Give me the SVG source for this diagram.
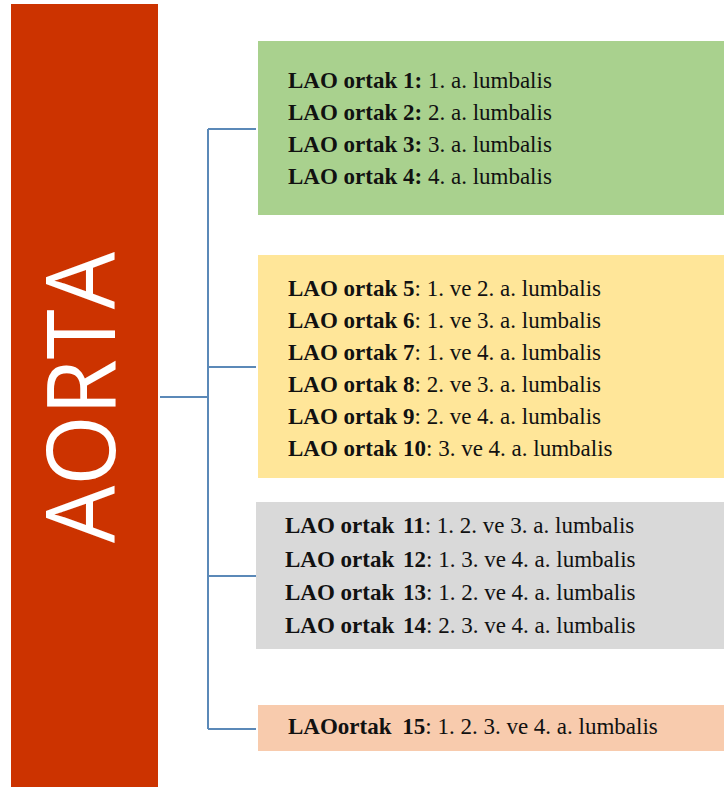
<svg xmlns="http://www.w3.org/2000/svg" width="724" height="787" viewBox="0 0 724 787">
<style>
.t{font-family:"Liberation Serif","Times New Roman",serif;font-size:23px;fill:#111}
.b{font-weight:bold}
.c{fill:none;stroke:#5B89B8;stroke-width:2}
</style>
<rect width="724" height="787" fill="#fff"/>
<g id="aorta">
<rect x="11" y="4" width="147" height="783" fill="#CC3300"/>
<text transform="translate(115,397.5) rotate(-90)" text-anchor="middle" font-family="'Open Sans','Liberation Sans',sans-serif" font-size="96" fill="#fff" textLength="291" lengthAdjust="spacingAndGlyphs">AORTA</text>
</g>
<g id="connectors">
<path class="c" d="M160 397H208M208 129V729M208 129H256M208 367H256M208 576H256M208 729H256"/>
</g>
<g id="green">
<rect x="258" y="41" width="466" height="174" fill="#A9D18E"/>
<text class="t" x="288" y="88"><tspan class="b">LAO ortak 1:</tspan> 1. a. lumbalis</text>
<text class="t" x="288" y="120"><tspan class="b">LAO ortak 2:</tspan> 2. a. lumbalis</text>
<text class="t" x="288" y="152"><tspan class="b">LAO ortak 3:</tspan> 3. a. lumbalis</text>
<text class="t" x="288" y="184"><tspan class="b">LAO ortak 4:</tspan> 4. a. lumbalis</text>
</g>
<g id="yellow">
<rect x="258" y="255" width="466" height="223" fill="#FFE699"/>
<text class="t" x="288" y="296"><tspan class="b">LAO ortak 5</tspan>: 1. ve 2. a. lumbalis</text>
<text class="t" x="288" y="328"><tspan class="b">LAO ortak 6</tspan>: 1. ve 3. a. lumbalis</text>
<text class="t" x="288" y="360"><tspan class="b">LAO ortak 7</tspan>: 1. ve 4. a. lumbalis</text>
<text class="t" x="288" y="392"><tspan class="b">LAO ortak 8</tspan>: 2. ve 3. a. lumbalis</text>
<text class="t" x="288" y="424"><tspan class="b">LAO ortak 9</tspan>: 2. ve 4. a. lumbalis</text>
<text class="t" x="288" y="456"><tspan class="b">LAO ortak 10</tspan>: 3. ve 4. a. lumbalis</text>
</g>
<g id="gray">
<rect x="256" y="502" width="468" height="147" fill="#D9D9D9"/>
<text class="t" x="285" y="533"><tspan class="b">LAO ortak <tspan dx="3">11</tspan></tspan>: 1. 2. ve 3. a. lumbalis</text>
<text class="t" x="285" y="566.5"><tspan class="b">LAO ortak <tspan dx="3">12</tspan></tspan>: 1. 3. ve 4. a. lumbalis</text>
<text class="t" x="285" y="600"><tspan class="b">LAO ortak <tspan dx="3">13</tspan></tspan>: 1. 2. ve 4. a. lumbalis</text>
<text class="t" x="285" y="633"><tspan class="b">LAO ortak <tspan dx="3">14</tspan></tspan>: 2. 3. ve 4. a. lumbalis</text>
</g>
<g id="peach">
<rect x="258" y="705" width="466" height="46" fill="#F8CBAD"/>
<text class="t" x="288" y="734"><tspan class="b">LAOortak <tspan dx="5">15</tspan></tspan>: 1. 2. 3. ve 4. a. lumbalis</text>
</g>
</svg>
